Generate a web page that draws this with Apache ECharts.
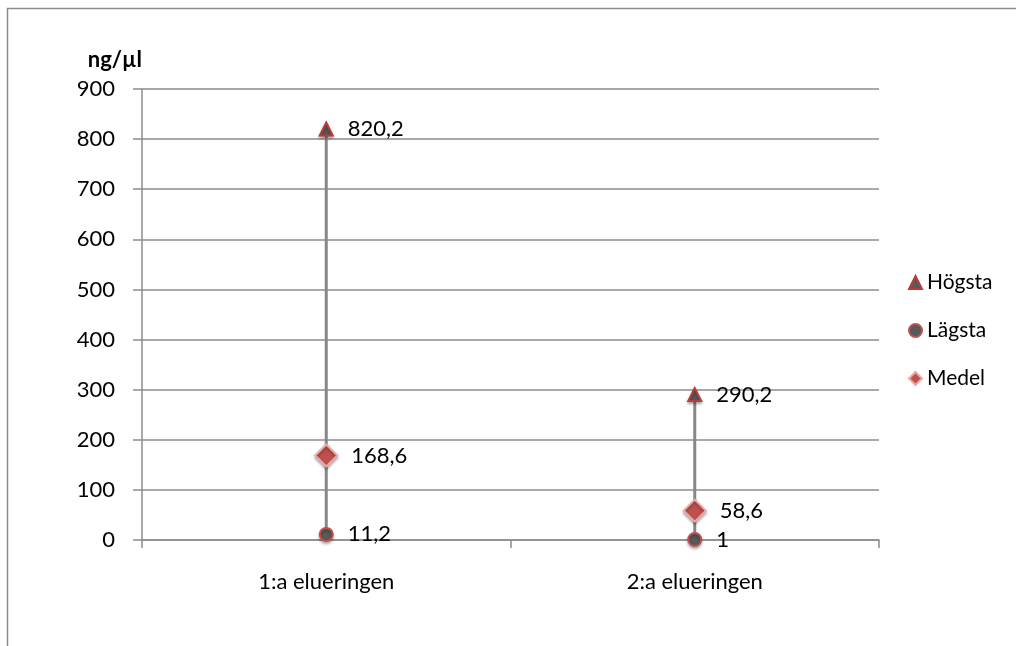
<!DOCTYPE html>
<html>
<head>
<meta charset="utf-8">
<script src="https://cdn.jsdelivr.net/npm/echarts@6/dist/echarts.min.js"></script>
<style>
  html, body { margin: 0; padding: 0; background: #fff; }
  #chart { width: 1016px; height: 646px; }
</style>
</head>
<body>
<div id="chart"></div>
<script>
const categories = ["1:a elueringen", "2:a elueringen"];
const hogsta = [820.2, 290.2];
const lagsta = [11.2, 1];
const medel = [168.6, 58.6];
const yTicks = [0, 100, 200, 300, 400, 500, 600, 700, 800, 900];

const chart = echarts.init(document.getElementById("chart"));
const font = "Lato, Open Sans, sans-serif";
const komma = (v) => String(v).replace(".", ",");

const labelStyle = (dx) => ({
  show: true,
  position: "right",
  distance: dx,
  color: "#000",
  fontSize: 22,
  fontFamily: font,
  formatter: (p) => komma(p.value)
});

const shadow = {
  opacity: 1,
  shadowBlur: 3,
  shadowColor: "rgba(0,0,0,0.3)",
  shadowOffsetY: 2
};

const option = {
  animation: false,
  graphic: [
    {
      type: "rect",
      shape: { x: 7.5, y: 8.5, width: 1020, height: 650 },
      style: { fill: "none", stroke: "#8c8c8c", lineWidth: 1.5 },
      silent: true
    }
  ],
  grid: { left: 142, right: 137, top: 89, bottom: 106 },
  legend: {
    orient: "vertical",
    left: 903,
    top: 266,
    itemGap: 25,
    itemWidth: 13,
    itemHeight: 13,
    textStyle: { fontSize: 21, lineHeight: 23, fontFamily: font, color: "#000" },
    data: [
      { name: "Högsta", icon: "triangle" },
      { name: "Lägsta", icon: "circle" },
      { name: "Medel", icon: "diamond" }
    ]
  },
  xAxis: {
    type: "category",
    data: categories,
    boundaryGap: true,
    axisLine: { lineStyle: { color: "#8c8c8c", width: 1.5 } },
    axisTick: { show: true, length: 8, lineStyle: { color: "#8c8c8c", width: 1.5 } },
    axisLabel: { fontSize: 22, fontFamily: font, color: "#000", margin: 31 }
  },
  yAxis: {
    type: "value",
    min: 0,
    max: yTicks[yTicks.length - 1],
    interval: 100,
    name: "ng/µl",
    nameLocation: "end",
    nameGap: 18,
    nameTextStyle: { fontSize: 22, fontWeight: "bold", fontFamily: font, color: "#000", align: "right" },
    axisLine: { show: true, lineStyle: { color: "#8c8c8c", width: 1.5 } },
    axisTick: { show: true, length: 9, lineStyle: { color: "#8c8c8c", width: 1.5 } },
    axisLabel: { fontSize: 22, fontFamily: font, color: "#000", margin: 27 },
    splitLine: { lineStyle: { color: "#8c8c8c", width: 1.5 } }
  },
  series: [
    {
      type: "custom",
      name: "hl",
      silent: true,
      z: 1,
      data: categories.map((c, i) => [i, lagsta[i], hogsta[i]]),
      renderItem: (params, api) => {
        const lo = api.coord([api.value(0), api.value(1)]);
        const hi = api.coord([api.value(0), api.value(2)]);
        return {
          type: "line",
          shape: { x1: lo[0], y1: lo[1], x2: hi[0], y2: hi[1] },
          style: { stroke: "#878787", lineWidth: 3 }
        };
      }
    },
    {
      name: "Högsta",
      type: "scatter",
      z: 3,
      symbol: "triangle",
      symbolSize: 13,
      data: hogsta,
      itemStyle: Object.assign({ color: "#595959", borderColor: "#b83c3a", borderWidth: 2 }, shadow),
      label: labelStyle(14)
    },
    {
      name: "Lägsta",
      type: "scatter",
      z: 3,
      symbol: "circle",
      symbolSize: 13,
      data: lagsta,
      itemStyle: Object.assign({ color: "#595959", borderColor: "#c0504d", borderWidth: 2 }, shadow),
      label: labelStyle(14)
    },
    {
      name: "Medel",
      type: "scatter",
      z: 3,
      symbol: "diamond",
      symbolSize: 22,
      data: medel,
      itemStyle: Object.assign({ color: "#c0504d", borderColor: "#e8a9a7", borderWidth: 2 }, shadow),
      label: labelStyle(13)
    }
  ]
};

chart.setOption(option);
</script>
</body>
</html>
